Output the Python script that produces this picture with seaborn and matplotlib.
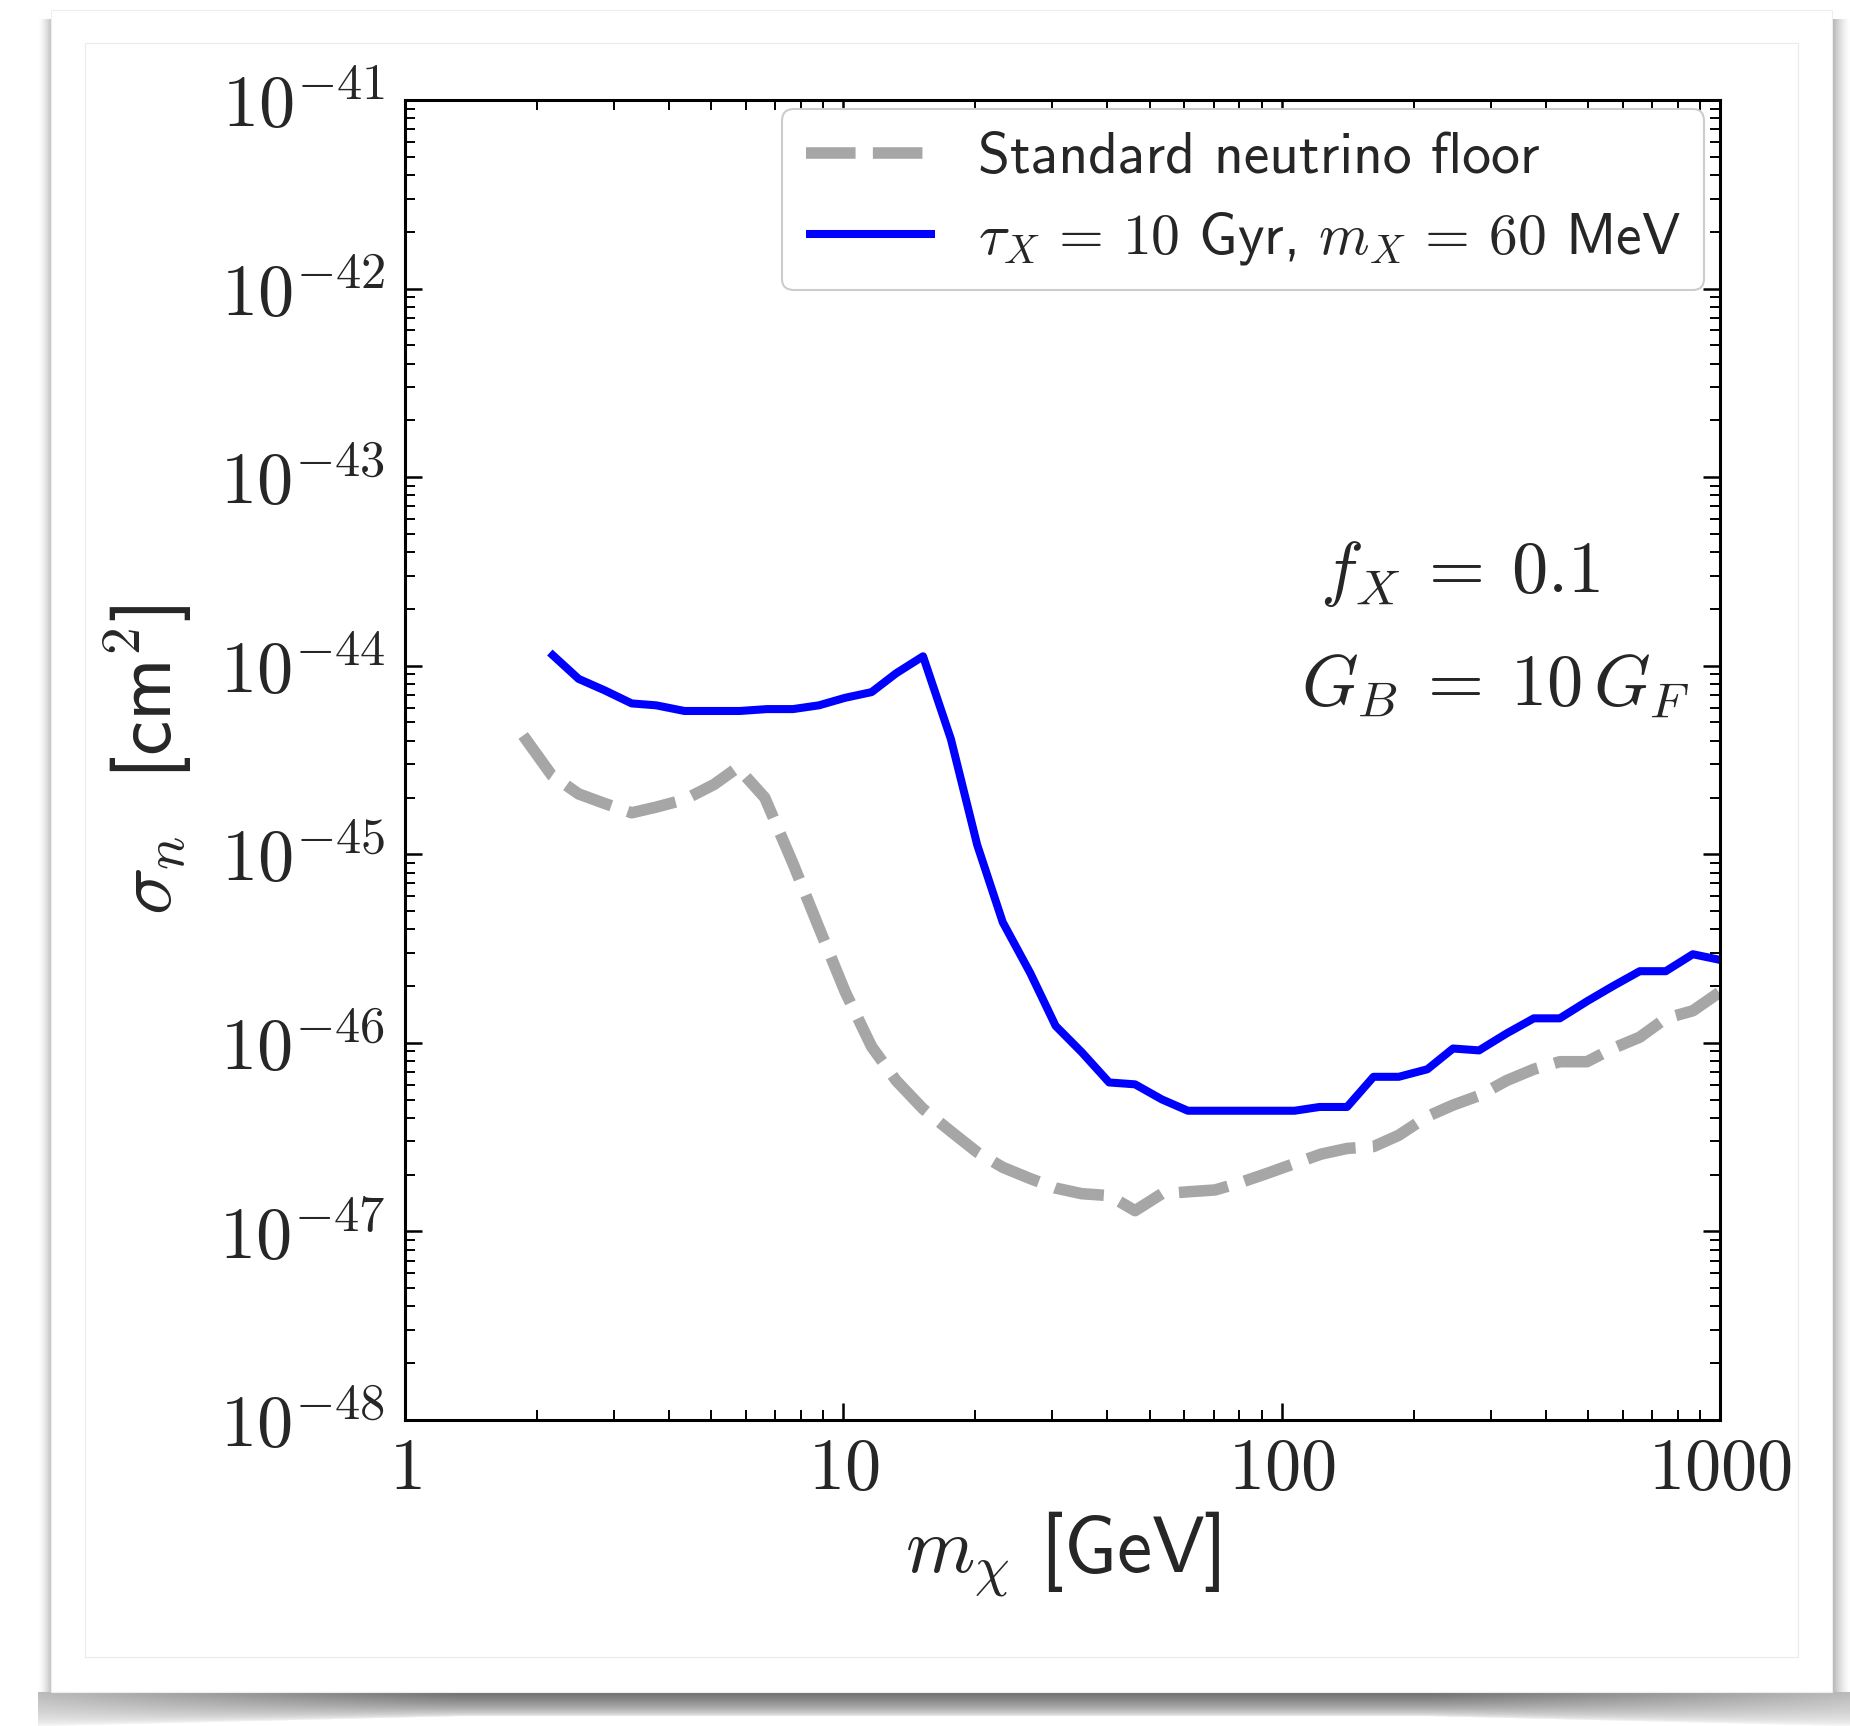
import numpy as np
import pandas as pd
import matplotlib
matplotlib.use("Agg")
import matplotlib.pyplot as plt
from matplotlib.ticker import LogLocator, NullFormatter, FixedLocator, FixedFormatter
from matplotlib.patches import Rectangle
import seaborn as sns

# ---------------- data ----------------
floor_mass = [1.86, 2.16, 2.49, 2.85, 3.29, 3.74, 4.34, 5.07, 5.74, 6.62, 7.68, 8.80,
              10.1, 11.6, 13.2, 15.2, 17.6, 20.2, 23.1, 26.7, 30.5, 35.0, 40.4, 46.3,
              53.3, 61.1, 70.5, 80.7, 93.2, 107, 123, 141, 162, 185, 215, 246, 282,
              326, 376, 431, 497, 569, 656, 752, 867, 1000]
floor_logsigma = [-44.37, -44.58, -44.68, -44.73, -44.78, -44.75, -44.71, -44.63, -44.54,
                  -44.70, -45.05, -45.39, -45.73, -46.02, -46.20, -46.35, -46.47, -46.58,
                  -46.66, -46.72, -46.77, -46.80, -46.81, -46.89, -46.80, -46.79, -46.78,
                  -46.74, -46.69, -46.64, -46.59, -46.56, -46.55, -46.49, -46.39, -46.33,
                  -46.28, -46.20, -46.14, -46.10, -46.10, -46.03, -45.97, -45.87, -45.83,
                  -45.73]

decay_mass = [2.14, 2.49, 2.85, 3.29, 3.74, 4.34, 5.07, 5.81, 6.70, 7.68, 8.80, 10.1,
              11.6, 13.2, 15.2, 17.6, 20.2, 23.1, 26.7, 30.5, 35.0, 40.4, 46.3, 53.3,
              61.1, 70.5, 80.7, 93.2, 107, 122, 141, 162, 185, 215, 246, 282, 326, 376,
              431, 497, 569, 656, 752, 867, 1000]
decay_logsigma = [-43.93, -44.07, -44.13, -44.20, -44.21, -44.24, -44.24, -44.24, -44.23,
                  -44.23, -44.21, -44.17, -44.14, -44.04, -43.95, -44.39, -44.95, -45.36,
                  -45.63, -45.91, -46.05, -46.21, -46.22, -46.30, -46.36, -46.36, -46.36,
                  -46.36, -46.36, -46.34, -46.34, -46.18, -46.18, -46.14, -46.03, -46.04,
                  -45.95, -45.87, -45.87, -45.78, -45.70, -45.62, -45.62, -45.53, -45.56]

legend_labels = ["Standard neutrino floor",
                 r"$\tau_X\,=\,10$ Gyr, $m_X\,=\,60$ MeV"]
x_tick_values = [1, 10, 100, 1000]
x_tick_labels = [r"$1$", r"$10$", r"$100$", r"$1000$"]
y_tick_exponents = [-48, -47, -46, -45, -44, -43, -42, -41]
annot_lines = [r"$f_X\:=\:0.1$", r"$G_B\:=\:10\,G_F$"]

floor_df = pd.DataFrame({"m": floor_mass, "sigma": np.power(10.0, floor_logsigma)})
decay_df = pd.DataFrame({"m": decay_mass, "sigma": np.power(10.0, decay_logsigma)})

# ---------------- style ----------------
sns.set_theme(style="ticks")
plt.rcParams["font.family"] = ["cmss10", "DejaVu Sans"]
plt.rcParams["mathtext.fontset"] = "cm"
plt.rcParams["axes.formatter.use_mathtext"] = True
plt.rcParams["axes.unicode_minus"] = False

W, H = 1850, 1726
fig = plt.figure(figsize=(W / 100, H / 100), dpi=100)
fig.patch.set_facecolor("white")

# ---------------- card background with drop shadow ----------------
bg = fig.add_axes([0, 0, 1, 1], zorder=-10)
bg.set_xlim(0, W)
bg.set_ylim(H, 0)
bg.axis("off")
yy, xx = np.mgrid[0:H, 0:W].astype(float)
dark = np.zeros((H, W))
card_l, card_r, card_t, card_b = 51, 1832, 10, 1692
edge = np.minimum(xx - 38, W - xx)
f = np.clip(edge / 420.0, 0, 1)
dtop = 0.27 + 0.30 * f
L = 34 - 10 * f
t = np.clip(1 - (yy - card_b) / L, 0, 1) ** 0.55
mask_b = (yy >= card_b) & (xx >= 38)
dark[mask_b] = (dtop * t)[mask_b]
mask_l = (xx >= 38) & (xx < card_l) & (yy >= 20) & (yy < card_b)
dark[mask_l] = (0.25 * ((xx - 38) / (card_l - 38)) ** 1.5)[mask_l]
mask_r = (xx >= card_r) & (yy >= 20) & (yy < card_b)
dark[mask_r] = (0.30 * np.clip((W - xx) / (W - card_r), 0, 1) ** 1.5)[mask_r]
img = np.repeat((1 - dark)[:, :, None], 3, axis=2)
bg.imshow(img, extent=(0, W, H, 0), aspect="auto", interpolation="bilinear")
bg.add_patch(Rectangle((card_l, card_t), card_r - card_l, card_b - card_t,
                       facecolor="none", edgecolor="#eeeeee", lw=0.8))
bg.add_patch(Rectangle((85, 43), 1798 - 85, 1657 - 43,
                       facecolor="none", edgecolor="#ebebeb", lw=0.8))

# ---------------- main axes ----------------
ax = fig.add_axes([405 / W, 1 - 1420 / H, (1720 - 405) / W, (1420 - 100) / H])
ax.set_facecolor("white")
ax.set_xscale("log")
ax.set_yscale("log")

sns.lineplot(data=floor_df, x="m", y="sigma", ax=ax, color="#a6a6a6", lw=8.3,
             linestyle=(0, (4.3, 1.5)), label=legend_labels[0], sort=False,
             estimator=None)
sns.lineplot(data=decay_df, x="m", y="sigma", ax=ax, color="#0000ff", lw=5.8,
             label=legend_labels[1], sort=False, estimator=None)
for ln in ax.lines:
    ln.set_solid_capstyle("butt")

ax.set_xlim(1, 1000)
ax.set_ylim(1e-48, 1e-41)

ax.xaxis.set_major_locator(FixedLocator(x_tick_values))
ax.xaxis.set_major_formatter(FixedFormatter(x_tick_labels))
ax.xaxis.set_minor_locator(LogLocator(base=10, subs=np.arange(2, 10), numticks=100))
ax.xaxis.set_minor_formatter(NullFormatter())
ax.yaxis.set_major_locator(FixedLocator([10.0 ** e for e in y_tick_exponents]))
ax.yaxis.set_major_formatter(FixedFormatter([r"$10^{%d}$" % e for e in y_tick_exponents]))
ax.yaxis.set_minor_locator(LogLocator(base=10, subs=np.arange(2, 10), numticks=100))
ax.yaxis.set_minor_formatter(NullFormatter())

ax.tick_params(which="both", direction="in", top=True, right=True, color="black")
ax.tick_params(which="major", length=12, width=1.8, labelsize=52, pad=14)
ax.tick_params(which="minor", length=7, width=1.4)
for s in ax.spines.values():
    s.set_linewidth(2.2)
    s.set_color("black")

ax.set_xlabel(r"$m_\chi$ [GeV]", fontsize=57, labelpad=4)
ax.set_ylabel(r"$\sigma_n$  [cm$^2$]", fontsize=57, labelpad=18)

for i, txt in enumerate(annot_lines):
    ax.text([0.802, 0.829][i], [0.641, 0.556][i], txt, transform=ax.transAxes,
            fontsize=52, ha="center", va="center")

leg = ax.legend(loc="upper right", bbox_to_anchor=(0.988, 0.993), fontsize=41.5,
                handlelength=2.25, handletextpad=0.75, borderpad=0.4,
                labelspacing=0.45, borderaxespad=0.0, frameon=True,
                fancybox=True, framealpha=1.0, edgecolor="#cccccc")
leg.get_frame().set_linewidth(1.5)

fig.savefig("out.png", dpi=100, facecolor="white")
